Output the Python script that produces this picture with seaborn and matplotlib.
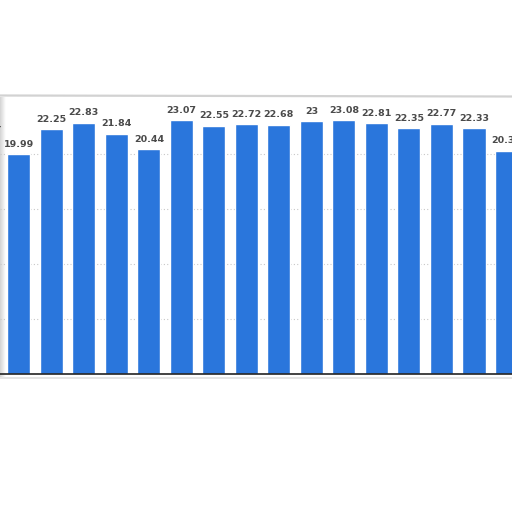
import numpy as np
import pandas as pd
import matplotlib
matplotlib.use("Agg")
import matplotlib.pyplot as plt
from matplotlib.lines import Line2D
import seaborn as sns

# --- data (first and last bars are cut by the crop) ---
periods = ["p01", "p02", "p03", "p04", "p05", "p06", "p07", "p08", "p09",
           "p10", "p11", "p12", "p13", "p14", "p15", "p16", "p17"]
values = [21.64, 19.99, 22.25, 22.83, 21.84, 20.44, 23.07, 22.55, 22.72,
          22.68, 23.00, 23.08, 22.81, 22.35, 22.77, 22.33, 20.31]
y_ticks = [0, 5, 10, 15, 20]

BAR = "#2a76dc"
TXT = "#4a4a4a"

sns.set_theme(style="white")
plt.rcParams["font.family"] = ["DejaVu Sans"]

df = pd.DataFrame({"period": periods, "value": values})

fig = plt.figure(figsize=(5.12, 5.12), dpi=100)
fig.patch.set_facecolor("white")

# card shadow strip on the left edge of the screenshot (drawn underneath)
shade = fig.add_axes([0, 1 - 378 / 512, 6 / 512, (378 - 97) / 512])
shade.imshow(np.linspace(0.83, 1.0, 16).reshape(1, -1), cmap="gray",
             vmin=0, vmax=1, aspect="auto")
shade.axis("off")
shade.set_zorder(0)

ax = fig.add_axes([0.0, 0.2695, 1.0, 0.537])
ax.set_zorder(1)
ax.patch.set_alpha(0)

sns.barplot(data=df, x="period", y="value", order=periods, color=BAR,
            width=0.71, saturation=1, ax=ax)

labels = ax.bar_label(ax.containers[0], labels=[f"{v:g}" for v in values],
                      padding=4, fontsize=6.8, fontweight="bold", color=TXT)
for t in labels:
    t.set_annotation_clip(False)  # keep the label of the cropped first bar

ax.set_xlim(0.42, 16.17)
ax.set_ylim(0, 25)
ax.set_yticks(y_ticks)
ax.yaxis.grid(True, linestyle=(0, (1, 2)), color="#c8c8c8", linewidth=0.8)
ax.set_axisbelow(True)
ax.set_xticks([])
ax.tick_params(left=False, labelleft=False)
ax.set_xlabel("")
ax.set_ylabel("")
for side in ["top", "left", "right"]:
    ax.spines[side].set_visible(False)
ax.spines["bottom"].set_color("#222222")
ax.spines["bottom"].set_linewidth(1.2)

# top and bottom edges of the card
fig.add_artist(Line2D([0, 1], [1 - 95.5 / 512, 1 - 96.5 / 512],
                      color="#d2d2d2", linewidth=1.6))
fig.add_artist(Line2D([0, 1], [1 - 378 / 512, 1 - 378 / 512],
                      color="#e4e4e4", linewidth=1.4))

fig.savefig("out.png", dpi=100)
